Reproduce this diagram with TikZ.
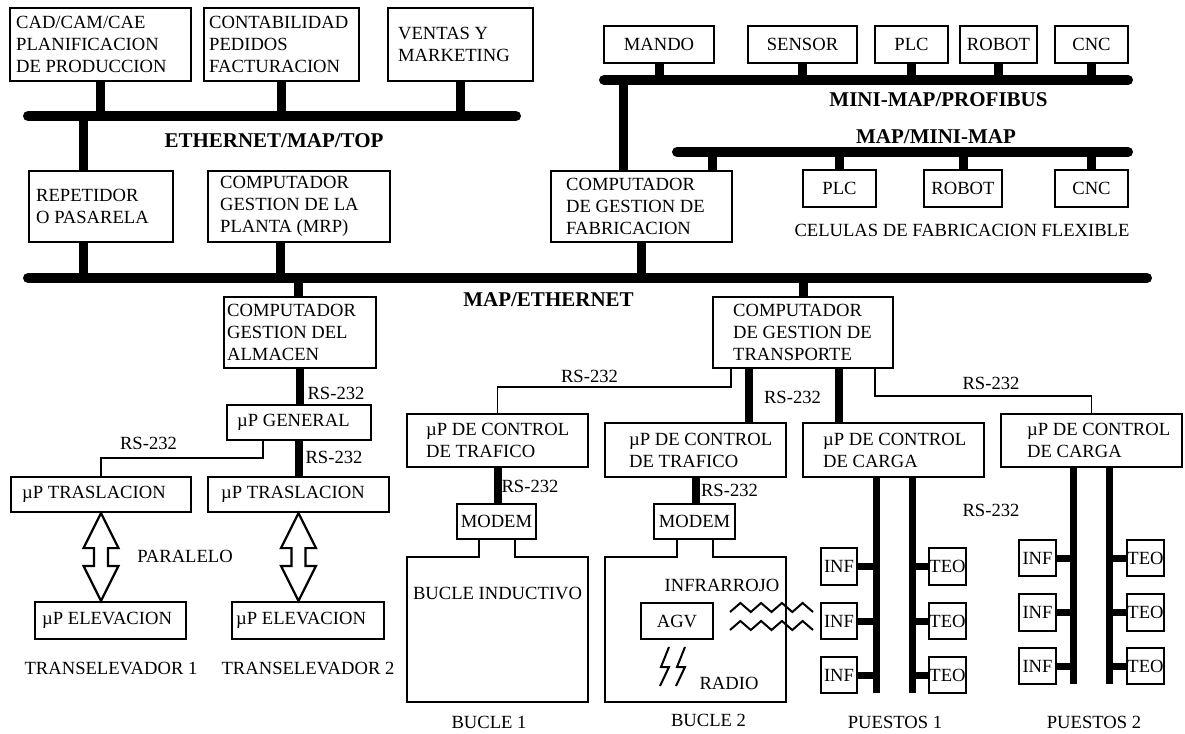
\documentclass[tikz,border=0pt]{standalone}
\usepackage{fontspec}
\setmainfont{Liberation Serif}
\usetikzlibrary{calc}

\tikzset{
  box/.style={draw, line width=2.2pt, inner sep=0pt, fill=white,
              font=\fontsize{18.6}{22}\selectfont},
  area/.style={draw=none, inner sep=0pt},
  outline/.style={line width=2.2pt, line join=miter},
  txt/.style={font=\fontsize{18.6}{22}\selectfont, inner sep=0pt, align=left},
  lbl/.style={font=\fontsize{18.6}{22}\selectfont, inner sep=0pt},
  busname/.style={font=\fontsize{21}{24}\selectfont\bfseries, inner sep=0pt},
  bus/.style={line width=10pt, line cap=round},
  stub/.style={line width=9pt},
  heavy/.style={line width=8pt},
  post/.style={line width=7pt},
  tap/.style={line width=7pt},
  rsline/.style={line width=1.6pt},
  wave/.style={line width=2pt, line join=miter},
  bolt/.style={line width=2pt, line join=miter},
}

% box with left-aligned text starting at x = #6
\newcommand\leftbox[7]{%
  \pgfmathsetmacro\pbw{#4-#2}\pgfmathsetmacro\pbh{#5-#3}%
  \pgfmathsetmacro\pbx{(#2+#4)/2}\pgfmathsetmacro\pby{(#3+#5)/2}%
  \node[box, minimum width=\pbw pt, minimum height=\pbh pt] (#1) at (\pbx,\pby) {};%
  \node[txt, anchor=west] (#1-t) at (#6,\pby) {#7};}
% box with centred text
\newcommand\centbox[6]{%
  \pgfmathsetmacro\pbw{#4-#2}\pgfmathsetmacro\pbh{#5-#3}%
  \pgfmathsetmacro\pbx{(#2+#4)/2}\pgfmathsetmacro\pby{(#3+#5)/2}%
  \node[box, align=center, minimum width=\pbw pt, minimum height=\pbh pt] (#1) at (\pbx,\pby) {#6};}
% invisible region, outlined by hand afterwards
\newcommand\region[5]{%
  \pgfmathsetmacro\pbw{#4-#2}\pgfmathsetmacro\pbh{#5-#3}%
  \pgfmathsetmacro\pbx{(#2+#4)/2}\pgfmathsetmacro\pby{(#3+#5)/2}%
  \node[area, minimum width=\pbw pt, minimum height=\pbh pt] (#1) at (\pbx,\pby) {};}

\begin{document}
\begin{tikzpicture}[x=1pt,y=-1pt]
\fill[white] (0,0) rectangle (1185,733);
\useasboundingbox (0,0) rectangle (1185,733);

% ---------- boxes ----------
\leftbox{cad}{10}{8}{191}{81}{16}{CAD/CAM/CAE\\PLANIFICACION\\DE PRODUCCION}
\leftbox{conta}{204}{8}{359}{81}{209}{CONTABILIDAD\\PEDIDOS\\FACTURACION}
\leftbox{ventas}{388}{8}{533}{81}{398}{VENTAS Y\\MARKETING}
\leftbox{repet}{29}{171}{173}{242}{36}{REPETIDOR\\O PASARELA}
\leftbox{planta}{208}{171}{390}{242}{220}{COMPUTADOR\\GESTION DE LA\\PLANTA (MRP)}
\leftbox{fabric}{551}{171}{732}{242}{566}{COMPUTADOR\\DE GESTION DE\\FABRICACION}
\leftbox{almacen}{224}{297}{376}{368}{227}{COMPUTADOR\\GESTION DEL\\ALMACEN}
\leftbox{transp}{713}{297}{893}{368}{733}{COMPUTADOR\\DE GESTION DE\\TRANSPORTE}
\leftbox{general}{227}{405}{371}{440}{237}{µP GENERAL}
\leftbox{trasl1}{11}{477}{191}{512}{22}{µP TRASLACION}
\leftbox{trasl2}{208}{477}{389}{512}{221}{µP TRASLACION}
\leftbox{elev1}{35}{602}{186}{639}{42}{µP ELEVACION}
\leftbox{elev2}{232}{602}{384}{639}{236}{µP ELEVACION}
\leftbox{traf1}{407}{414}{588}{467}{426}{µP DE CONTROL\\DE TRAFICO}
\leftbox{traf2}{605}{423}{786}{477}{629}{µP DE CONTROL\\DE TRAFICO}
\leftbox{carga1}{803}{423}{984}{477}{823}{µP DE CONTROL\\DE CARGA}
\leftbox{carga2}{1001}{414}{1182}{467}{1027}{µP DE CONTROL\\DE CARGA}

\centbox{mando}{604}{26}{714}{63}{MANDO}
\centbox{sensor}{748}{26}{857}{63}{SENSOR}
\centbox{plcA}{875}{26}{948}{63}{PLC}
\centbox{robotA}{960}{26}{1037}{63}{ROBOT}
\centbox{cncA}{1055}{26}{1128}{63}{CNC}
\centbox{plcB}{803}{170}{876}{207}{PLC}
\centbox{robotB}{924}{170}{1002}{207}{ROBOT}
\centbox{cncB}{1055}{170}{1128}{207}{CNC}
\centbox{modem1}{457}{504}{536}{539}{MODEM}
\centbox{modem2}{654}{504}{735}{539}{MODEM}
\centbox{agv}{641}{603}{713}{639}{AGV}

% workstations
\centbox{infA1}{821}{548}{857}{585}{INF}
\centbox{infA2}{821}{603}{857}{639}{INF}
\centbox{infA3}{821}{657}{857}{693}{INF}
\centbox{teoA1}{929}{548}{966}{585}{TEO}
\centbox{teoA2}{929}{603}{966}{639}{TEO}
\centbox{teoA3}{929}{657}{966}{693}{TEO}
\centbox{infB1}{1019}{540}{1056}{576}{INF}
\centbox{infB2}{1019}{594}{1056}{631}{INF}
\centbox{infB3}{1019}{648}{1056}{684}{INF}
\centbox{teoB1}{1127}{540}{1164}{576}{TEO}
\centbox{teoB2}{1127}{594}{1164}{631}{TEO}
\centbox{teoB3}{1127}{648}{1164}{684}{TEO}

% guided-vehicle loops
\region{bucle1}{407}{557}{588}{702}
\region{bucle2}{605}{557}{786}{702}

% ---------- buses ----------
\coordinate (tb-l) at (28,116);   \coordinate (tb-r) at (516,116);
\coordinate (me-l) at (28,278);   \coordinate (me-r) at (1147,278);
\coordinate (mp-l) at (604,80);   \coordinate (mp-r) at (1128,80);
\coordinate (mm-l) at (677,152);  \coordinate (mm-r) at (1128,152);
\draw[bus] (tb-l) -- (tb-r);
\draw[bus] (me-l) -- (me-r);
\draw[bus] (mp-l) -- (mp-r);
\draw[bus] (mm-l) -- (mm-r);

\node[busname] (n-top) at (274,141) {ETHERNET/MAP/TOP};
\node[busname] (n-me) at (548.5,300) {MAP/ETHERNET};
\node[busname] (n-mp) at (938.5,100) {MINI-MAP/PROFIBUS};
\node[busname] (n-mm) at (936,137) {MAP/MINI-MAP};

% ETHERNET/MAP/TOP taps
\draw[stub] (cad.south) -- (cad.south |- tb-l);
\draw[stub] (conta.south) -- (conta.south |- tb-l);
\draw[stub] (ventas.south) -- (ventas.south |- tb-l);
\coordinate (tap-rep) at (83,116);
\draw[stub] (tap-rep) -- (tap-rep |- repet.north);

% MAP/ETHERNET taps
\draw[stub] (tap-rep |- repet.south) -- (tap-rep |- me-l);
\coordinate (tap-pl) at (280,278);
\draw[stub] (tap-pl |- planta.south) -- (tap-pl);
\draw[stub] (fabric.south) -- (fabric.south |- me-l);
\coordinate (tap-al) at (298,278);
\draw[stub] (tap-al) -- (tap-al |- almacen.north);
\draw[stub] (me-l -| transp.north) -- (transp.north);

% MINI-MAP/PROFIBUS taps
\draw[stub] (mando.south) -- (mando.south |- mp-l);
\draw[stub] (sensor.south) -- (sensor.south |- mp-l);
\draw[stub] (plcA.south) -- (plcA.south |- mp-l);
\draw[stub] (robotA.south) -- (robotA.south |- mp-l);
\draw[stub] (cncA.south) -- (cncA.south |- mp-l);
\coordinate (tap-fa) at (623,80);
\draw[stub] (tap-fa) -- (tap-fa |- fabric.north);

% MAP/MINI-MAP taps
\coordinate (tap-fb) at (712,152);
\draw[stub] (tap-fb) -- (tap-fb |- fabric.north);
\draw[stub] (plcB.north) -- (plcB.north |- mm-l);
\draw[stub] (robotB.north) -- (robotB.north |- mm-l);
\draw[stub] (cncB.north) -- (cncB.north |- mm-l);
\node[lbl] (n-cel) at (962,230) {CELULAS DE FABRICACION FLEXIBLE};

% ---------- warehouse ----------
\draw[heavy] (almacen.south) -- (almacen.south |- general.north);
\draw[heavy] (general.south) -- (general.south |- trasl2.north);
\coordinate (g-bend) at (263,458);
\draw[rsline] (g-bend |- general.south) -- (g-bend) -| (trasl1.north);
\node[lbl] (rs-a) at (336,393) {RS-232};
\node[lbl] (rs-b) at (148.5,443) {RS-232};
\node[lbl] (rs-c) at (334,457) {RS-232};

% parallel links (hollow double arrows)
\foreach \t/\e in {trasl1/elev1, trasl2/elev2}{
  \draw[outline] (\t.south) -- ++(17.5,35) -- ++(-10.5,0)
    -- ($(\t.south |- \e.north)+(7,-35)$) -- ++(10.5,0)
    -- (\t.south |- \e.north) -- ++(-17.5,-35) -- ++(10.5,0)
    -- ($(\t.south)+(-7,35)$) -- ++(-10.5,0) -- cycle;
}
\node[lbl] (n-par) at (185,556) {PARALELO};
\node[lbl] (n-te1) at (111,668) {TRANSELEVADOR 1};
\node[lbl] (n-te2) at (308,668) {TRANSELEVADOR 2};

% ---------- transport ----------
\coordinate (t-bend1) at (731,387);
\draw[rsline] (t-bend1 |- transp.south) -- (t-bend1) -| (traf1.north);
\coordinate (t-tap2) at (749,0);
\draw[heavy] (t-tap2 |- transp.south) -- (t-tap2 |- traf2.north);
\coordinate (t-tap3) at (839,0);
\draw[heavy] (t-tap3 |- transp.south) -- (t-tap3 |- carga1.north);
\coordinate (t-bend4) at (875,396);
\draw[rsline] (t-bend4 |- transp.south) -- (t-bend4) -| (carga2.north);
\node[lbl] (rs-d) at (589.5,376) {RS-232};
\node[lbl] (rs-e) at (792.5,397) {RS-232};
\node[lbl] (rs-f) at (991,383) {RS-232};

\draw[heavy] (traf1.south) -- (traf1.south |- modem1.north);
\draw[heavy] (traf2.south) -- (traf2.south |- modem2.north);
\node[lbl] (rs-g) at (530,486) {RS-232};
\node[lbl] (rs-h) at (729.5,490) {RS-232};

% loop 1
\coordinate (m1a) at (479,0); \coordinate (m1b) at (515,0);
\draw[outline] (m1a |- modem1.south) -- (m1a |- bucle1.north) -- (bucle1.north west)
  -- (bucle1.south west) -- (bucle1.south east) -- (bucle1.north east)
  -- (m1b |- bucle1.north) -- (m1b |- modem1.south);
\node[lbl] (n-ind) at (497.5,593) {BUCLE INDUCTIVO};
\node[lbl] (n-b1) at (489,722) {BUCLE 1};

% loop 2
\coordinate (m2a) at (677,0); \coordinate (m2b) at (713,0);
\draw[outline] (m2a |- modem2.south) -- (m2a |- bucle2.north) -- (bucle2.north west)
  -- (bucle2.south west) -- (bucle2.south east) -- (bucle2.north east)
  -- (m2b |- bucle2.north) -- (m2b |- modem2.south);
\node[lbl] (n-ir) at (722,585) {INFRARROJO};
\node[lbl] (n-rad) at (729,683) {RADIO};
\node[lbl] (n-b2) at (708.5,720) {BUCLE 2};

% infrared waves
\draw[wave] (730,612) -- (740.4,603) -- (750.8,612) -- (761.1,603) -- (771.5,612)
  -- (781.9,603) -- (792.3,612) -- (802.6,603) -- (813,612);
\draw[wave] (730,630) -- (740.4,621) -- (750.8,630) -- (761.1,621) -- (771.5,630)
  -- (781.9,621) -- (792.3,630) -- (802.6,621) -- (813,630);

% radio bolts
\draw[bolt] (669,647) -- (661,667) -- (669,667) -- (660,686);
\draw[bolt] (685,647) -- (677,667) -- (685,667) -- (676,686);

% ---------- workstations ----------
\coordinate (c1L) at (876,693); \coordinate (c1R) at (912,693);
\coordinate (c2L) at (1073,684); \coordinate (c2R) at (1109,684);
\draw[post] (c1L |- carga1.south) -- (c1L);
\draw[post] (c1R |- carga1.south) -- (c1R);
\draw[post] (c2L |- carga2.south) -- (c2L);
\draw[post] (c2R |- carga2.south) -- (c2R);
\foreach \k in {1,2,3}{
  \draw[tap] (infA\k.east) -- (infA\k.east -| c1L);
  \draw[tap] (teoA\k.west) -- (teoA\k.west -| c1R);
  \draw[tap] (infB\k.east) -- (infB\k.east -| c2L);
  \draw[tap] (teoB\k.west) -- (teoB\k.west -| c2R);
}
\node[lbl] (rs-i) at (991,510) {RS-232};
\node[lbl] (n-p1) at (895,722) {PUESTOS 1};
\node[lbl] (n-p2) at (1094,722) {PUESTOS 2};
\end{tikzpicture}
\end{document}
